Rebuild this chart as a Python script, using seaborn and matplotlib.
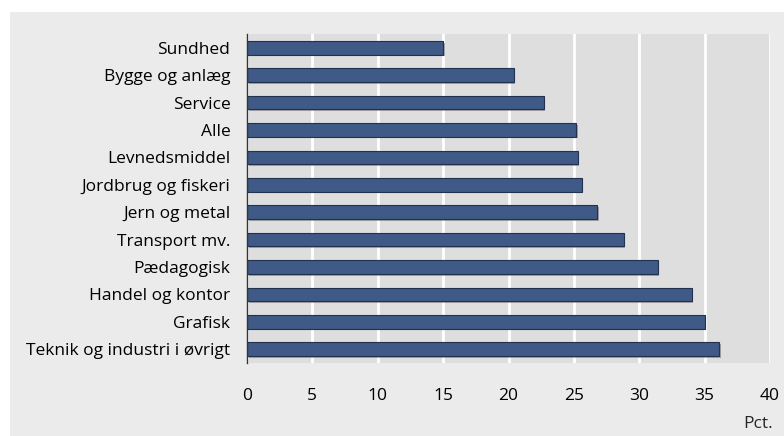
import pandas as pd
import matplotlib.pyplot as plt
import matplotlib.patheffects as pe
from matplotlib.patches import Rectangle
import seaborn as sns


categories = ['Sundhed', 'Bygge og anlæg', 'Service', 'Alle', 'Levnedsmiddel',
              'Jordbrug og fiskeri', 'Jern og metal', 'Transport mv.', 'Pædagogisk',
              'Handel og kontor', 'Grafisk', 'Teknik og industri i øvrigt']
values = [15.0, 20.4, 22.7, 25.2, 25.3, 25.6, 26.8, 28.8, 31.4, 34.0, 35.0, 36.1]
xticks = [0, 5, 10, 15, 20, 25, 30, 35, 40]

df = pd.DataFrame({'kategori': categories, 'pct': values})

sns.set_style('white')
plt.rcParams['font.family'] = ['Open Sans', 'DejaVu Sans']

W, H = 784, 436
fig = plt.figure(figsize=(W / 100, H / 100), dpi=100, facecolor='white')

# grey panel behind everything
fig.patches.append(Rectangle((10 / W, 0), 1 - 10 / W, 1 - 12 / H,
                             transform=fig.transFigure, facecolor='#ebebeb',
                             edgecolor='none', zorder=-10))

ax = fig.add_axes([247 / W, 1 - 363 / H, (770 - 247) / W, (363 - 34) / H])
ax.set_zorder(5)
ax.set_facecolor('#dedede')

sns.barplot(data=df, x='pct', y='kategori', orient='h', color='#3f5a87',
            edgecolor='#22314f', linewidth=0.8, width=0.5, saturation=1, ax=ax)
for bar in ax.patches:
    bar.set_path_effects([pe.SimplePatchShadow(offset=(1.2, -1.2), shadow_rgbFace='#777777', alpha=0.6),
                          pe.Normal()])
    bar.set_zorder(3)

ax.set_xlim(0, 40)
ax.set_ylim(11.5, -0.5)
ax.set_xticks(xticks)
ax.xaxis.grid(True, color='white', linewidth=2)
ax.set_axisbelow(True)
ax.tick_params(axis='both', length=0, labelsize=12.5, colors='black')
ax.tick_params(axis='y', pad=12)
ax.tick_params(axis='x', pad=18)
ax.set_xlabel('')
ax.set_ylabel('')

for s in ['top', 'right', 'bottom']:
    ax.spines[s].set_visible(False)
ax.spines['left'].set_color('#333333')
ax.spines['left'].set_linewidth(1)
ax.spines['left'].set_zorder(4)

fig.text(773 / W, 1 - 424 / H, 'Pct.', ha='right', va='center', fontsize=12.5)

fig.savefig('out.png', dpi=100, facecolor='white')
